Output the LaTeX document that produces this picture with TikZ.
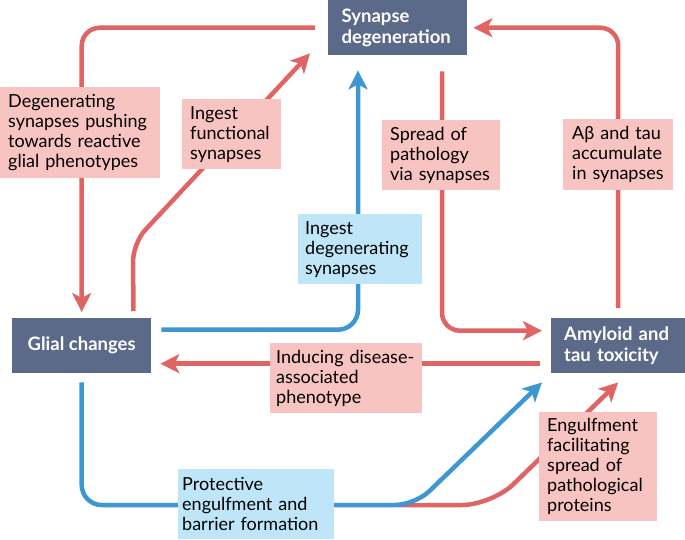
\documentclass[tikz,border=0pt]{standalone}
\usepackage{fontspec}
\setmainfont{Lato}
\usetikzlibrary{arrows.meta,positioning}

\definecolor{slate}{HTML}{5B6A88}
\definecolor{linered}{HTML}{E06463}
\definecolor{pinkfill}{HTML}{F8C4C1}
\definecolor{lineblue}{HTML}{3E96D2}
\definecolor{bluefill}{HTML}{BEE6F8}

\begin{document}
\begin{tikzpicture}[
  x=1pt,y=-1pt,
  font=\fontsize{18}{20}\selectfont,
  >={Stealth[length=19pt,width=19pt,inset=5pt]},
  block/.style={fill=slate,text=white,font=\fontsize{18.5}{21}\selectfont\bfseries,
                minimum height=55pt,inner ysep=0pt,anchor=north west},
  pinkbox/.style={fill=pinkfill,align=left,inner xsep=8pt,inner ysep=0pt,
                  anchor=north west},
  bluebox/.style={pinkbox,fill=bluefill},
  redline/.style={draw=linered,line width=4.5pt,rounded corners=18pt,->},
  blueline/.style={draw=lineblue,line width=4.5pt,rounded corners=20pt,->},
]

\useasboundingbox (0,0) rectangle (685,539);

%% ============================================================
%% Three main states: synapse (top), glia (left), amyloid (right)
%% ============================================================

% --- Synapse degeneration (top centre) ---
\node[block,minimum width=139pt,text width=112pt,inner xsep=13.5pt,align=left]
      (syn) at (328,0) {Synapse\\degeneration};

% --- Glial changes (left) ---
\node[block,minimum width=139pt] (glial) at (12,318) {Glial changes};

% --- Amyloid and tau toxicity (right) ---
\node[block,minimum width=134pt,text width=108pt,inner xsep=13pt,align=left]
      (amy) at (551,318) {Amyloid and\\tau toxicity};

%% --- connectors ---

% synapse -> glia (outer loop)
\draw[redline,shorten <=13pt,shorten >=6pt] (syn.west) -| (glial.north);

% glia -> synapse, functional synapses
\coordinate (fbend) at (133,243);
\draw[redline] ([xshift=-18pt,yshift=7pt]glial.north east) -- (fbend)
      -- ([xshift=-18pt,yshift=2pt]syn.south west);

% glia -> synapse, degenerating synapses
\draw[blueline] ([xshift=10pt,yshift=16pt]glial.east)
      -| ([xshift=30pt,yshift=-15pt]syn.south west);

% synapse -> amyloid
\draw[redline] ([xshift=114pt,yshift=-16pt]syn.south west)
      |- ([xshift=-9pt,yshift=15pt]amy.west);

% amyloid -> synapse (outer loop)
\draw[redline,shorten <=10pt,shorten >=6pt] (amy.north) |- (syn.east);

% amyloid -> glia
\draw[redline,shorten <=11pt,shorten >=9pt] ([yshift=-18pt]amy.west)
      -- ([yshift=-18pt]glial.east);

% glia -> amyloid, engulfment (red under blue)
\coordinate (estart) at (397,505);
\coordinate (ebend) at (492,505);
\draw[redline,rounded corners=30pt] (estart) -- (ebend) -- ([yshift=-9pt]amy.south);

\coordinate (pbend) at (415,505);
\draw[blueline,shorten <=9pt] (glial.south) |- (pbend)
      -- ([xshift=-9pt,yshift=-9pt]amy.south west);

%% --- labels on the connectors ---
\node[pinkbox,text width=144pt,minimum height=91pt] (lbDegen) at (0,87)
      {Degenerating\\synapses pushing\\towards reactive\\glial phenotypes};
\node[pinkbox,text width=83pt,minimum height=70pt] (lbIngestF) at (182,99)
      {Ingest\\functional\\synapses};
\node[bluebox,text width=110pt,inner xsep=7pt,minimum height=70pt] (lbIngestD) at (298,214)
      {Ingest\\degenerating\\synapses};
\node[pinkbox,text width=102pt,minimum height=70pt] (lbSpread) at (382,120)
      {Spread of\\pathology\\via synapses};
\node[pinkbox,text width=92pt,inner xsep=9pt,minimum height=71pt] (lbAbeta) at (563,119)
      {Aβ and tau\\accumulate\\in synapses};
\node[pinkbox,text width=140pt,inner xsep=6pt,minimum height=70pt] (lbInduce) at (270,343)
      {Inducing disease-\\associated\\phenotype};
\node[bluebox,text width=148pt,inner xsep=4pt,minimum height=70pt] (lbProtect) at (178,469)
      {Protective\\engulfment and\\barrier formation};
\node[pinkbox,text width=102pt,minimum height=109pt] (lbEngulf) at (539,412)
      {Engulfment\\facilitating\\spread of\\pathological\\proteins};

\end{tikzpicture}
\end{document}
